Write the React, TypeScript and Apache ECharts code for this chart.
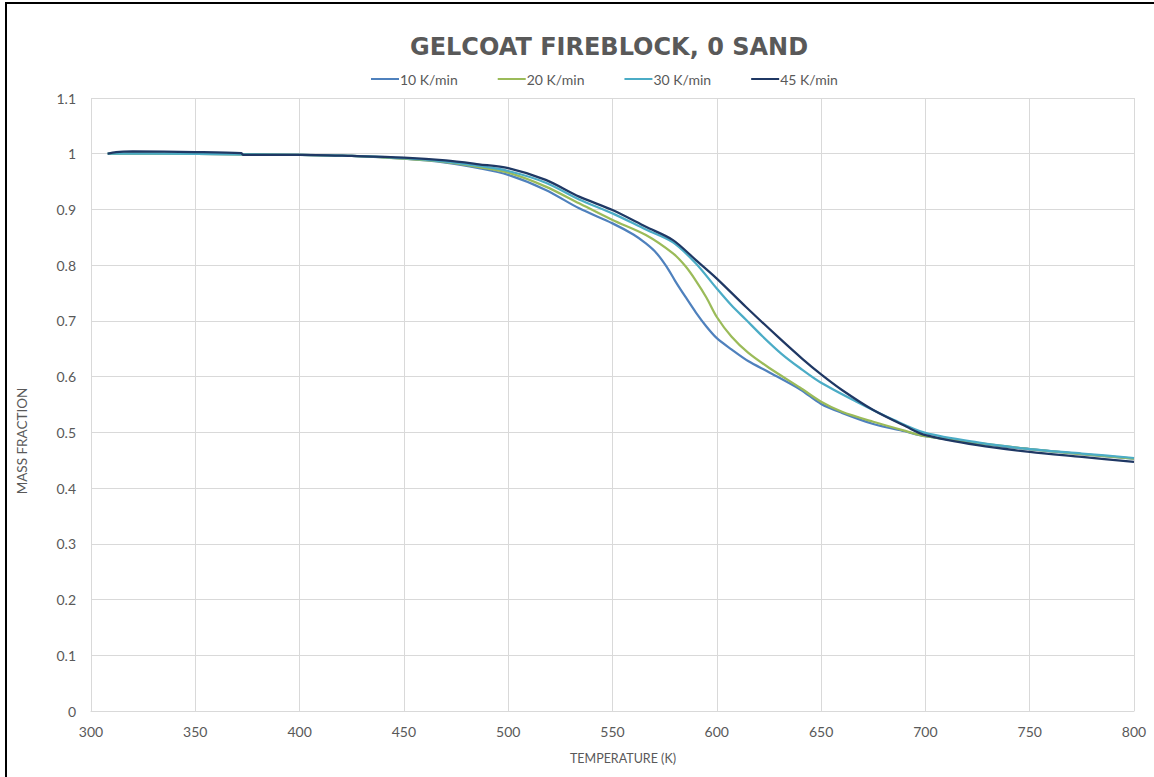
import React, { useEffect, useRef } from "react";
import * as echarts from "echarts";

const TITLE = "GELCOAT FIREBLOCK, 0 SAND";
const X_NAME = "TEMPERATURE (K)";
const Y_NAME = "MASS FRACTION";
const SERIES_NAMES = ["10 K/min", "20 K/min", "30 K/min", "45 K/min"];
const COLORS = ["#4f81bd", "#9bbb59", "#4bacc6", "#1f3864"];

const T10 = [308, 330, 372, 400, 425, 450, 470, 486, 500, 518, 534, 550, 560, 566, 571, 576, 580, 585, 590, 595, 600, 607, 615, 625, 640, 650, 660, 675, 690, 700, 725, 750, 775, 800];
const M10 = [1.0, 1.0, 0.999, 0.998, 0.996, 0.991, 0.984, 0.974, 0.962, 0.935, 0.902, 0.875, 0.855, 0.839, 0.822, 0.797, 0.772, 0.743, 0.715, 0.69, 0.669, 0.649, 0.628, 0.608, 0.577, 0.551, 0.535, 0.515, 0.502, 0.493, 0.48, 0.47, 0.461, 0.453];

const T20 = [308, 330, 372, 400, 425, 450, 470, 486, 500, 518, 534, 550, 566, 579, 585, 590, 595, 600, 607, 615, 625, 640, 650, 660, 675, 690, 700, 725, 750, 775, 800];
const M20 = [1.0, 1.0, 0.999, 0.998, 0.996, 0.991, 0.985, 0.976, 0.966, 0.941, 0.911, 0.881, 0.854, 0.821, 0.798, 0.772, 0.742, 0.707, 0.672, 0.643, 0.616, 0.58, 0.555, 0.537, 0.519, 0.503, 0.493, 0.481, 0.47, 0.461, 0.453];

const T30 = [308, 330, 372, 400, 425, 450, 470, 486, 500, 518, 534, 550, 566, 579, 590, 600, 607, 614, 622, 631, 640, 650, 667, 685, 700, 725, 750, 775, 800];
const M30 = [1.0, 1.0, 0.999, 0.998, 0.996, 0.992, 0.986, 0.978, 0.969, 0.948, 0.918, 0.893, 0.864, 0.841, 0.803, 0.758, 0.728, 0.702, 0.672, 0.641, 0.615, 0.589, 0.555, 0.522, 0.499, 0.482, 0.47, 0.462, 0.454];

const T45 = [308, 312, 320, 350, 372, 373, 400, 425, 450, 470, 486, 500, 518, 534, 550, 566, 579, 590, 600, 614, 630, 641, 650, 660, 675, 691, 700, 725, 750, 775, 800];
const M45 = [1.0, 1.003, 1.004, 1.003, 1.001, 0.998, 0.998, 0.996, 0.993, 0.988, 0.981, 0.974, 0.953, 0.923, 0.899, 0.869, 0.845, 0.809, 0.776, 0.725, 0.669, 0.632, 0.604, 0.576, 0.54, 0.51, 0.495, 0.477, 0.465, 0.456, 0.447];

const TEMPS = [T10, T20, T30, T45];
const MASSES = [M10, M20, M30, M45];

const FONT = "Lato, 'Open Sans', sans-serif";
const TEXT = "#595959";

export default function App() {
  const ref = useRef<HTMLDivElement>(null);
  useEffect(() => {
    if (!ref.current) return;
    const chart = echarts.init(ref.current, null, { renderer: "svg" });
    chart.setOption({
      animation: false,
      backgroundColor: "#ffffff",
      title: {
        text: TITLE,
        left: 604,
        top: 30,
        textAlign: "center",
        textStyle: { fontFamily: "'DejaVu Sans', sans-serif", fontSize: 24, fontWeight: "bold", color: TEXT },
      },
      legend: {
        data: SERIES_NAMES,
        left: 366,
        top: 67,
        itemWidth: 28,
        itemHeight: 2,
        itemGap: 40,
        icon: "rect",
        textStyle: { fontFamily: FONT, fontSize: 14, color: TEXT, padding: [0, 0, 0, -4] },
      },
      grid: { left: 91, right: 20, top: 98, bottom: 66 },
      xAxis: {
        type: "value",
        min: 300,
        max: 800,
        interval: 50,
        axisLine: { show: true, lineStyle: { color: "#d9d9d9" } },
        axisTick: { show: false },
        axisLabel: { color: TEXT, fontFamily: FONT, fontSize: 14, margin: 13 },
        splitLine: { show: true, lineStyle: { color: "#d9d9d9" } },
      },
      yAxis: {
        type: "value",
        min: 0,
        max: 1.1,
        interval: 0.1,
        axisLine: { show: false },
        axisTick: { show: false },
        axisLabel: {
          color: TEXT,
          fontFamily: FONT,
          fontSize: 14,
          margin: 15,
          formatter: (v: number) => String(Number(v.toFixed(1))),
        },
        splitLine: { show: true, lineStyle: { color: "#d9d9d9" } },
      },
      graphic: [
        {
          type: "rect",
          shape: { x: 6, y: 3, width: 1160, height: 800 },
          style: { fill: "none", stroke: "#000000", lineWidth: 2 },
          silent: true,
        },
        {
          type: "text",
          x: 22,
          y: 441,
          rotation: Math.PI / 2,
          style: {
            text: Y_NAME,
            fill: TEXT,
            font: `13.5px ${FONT}`,
            textAlign: "center",
            textVerticalAlign: "middle",
          },
        },
        {
          type: "text",
          x: 623,
          y: 758,
          style: {
            text: X_NAME,
            fill: TEXT,
            font: `12.5px ${FONT}`,
            textAlign: "center",
            textVerticalAlign: "middle",
          },
        },
      ],
      series: SERIES_NAMES.map((name, i) => ({
        name,
        type: "line",
        smooth: 0.3,
        symbol: "none",
        lineStyle: { width: 2.25, color: COLORS[i] },
        itemStyle: { color: COLORS[i] },
        data: TEMPS[i].map((t, j) => [t, MASSES[i][j]]),
      })),
    });
    return () => chart.dispose();
  }, []);
  return (
    <div
      ref={ref}
      style={{ position: "fixed", left: 0, top: 0, width: 1154, height: 777 }}
    />
  );
}
